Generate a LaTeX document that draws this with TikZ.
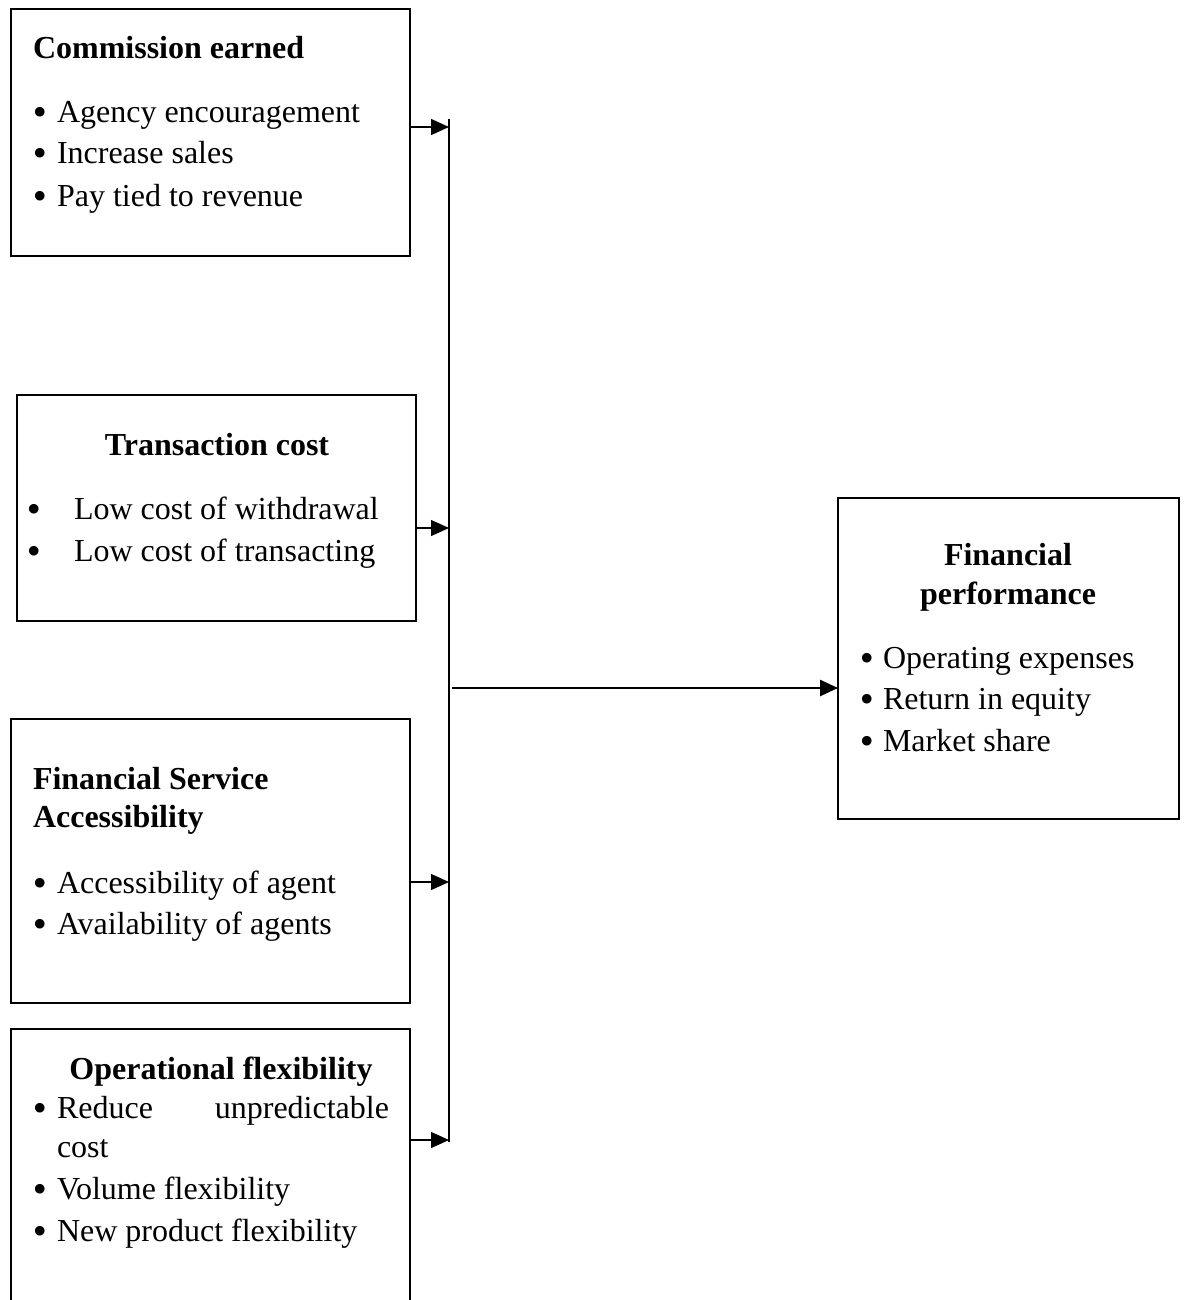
\documentclass[tikz,border=0pt]{standalone}
\usepackage{fontspec}
\setmainfont{Liberation Serif}
\newfontfamily\bulfont{DejaVu Sans}
\usetikzlibrary{arrows.meta}
\begin{document}
\begin{tikzpicture}[x=1pt,y=-1pt,
  box/.style={draw,line width=2pt,inner sep=0pt,outer sep=0pt,anchor=north west},
  txt/.style={inner sep=0pt,outer sep=0pt,anchor=base west,font=\fontsize{32}{42}\selectfont},
  ttl/.style={txt,font=\fontsize{32}{42}\selectfont\bfseries},
  ctl/.style={ttl,anchor=base},
  bul/.style={inner sep=0pt,outer sep=0pt,anchor=base west,font=\bulfont\fontsize{33}{42}\selectfont},
  conn/.style={line width=1.4pt,-{Triangle[length=18pt,width=16pt]}},
  spine/.style={line width=1.6pt},
]
\newcommand{\bulsym}{\raisebox{-2pt}{•}}
\clip (0,0) rectangle (1187,1300);
\fill[white] (0,0) rectangle (1187,1300);

% boxes
\node[box,minimum width=399pt,minimum height=247pt] (b1) at (11,9) {};
\node[box,minimum width=399pt,minimum height=226pt] (b2) at (17,395) {};
\node[box,minimum width=399pt,minimum height=284pt] (b3) at (11,719) {};
\node[box,minimum width=399pt,minimum height=320pt] (b4) at (11,1029) {};
\node[box,minimum width=341pt,minimum height=321pt] (b5) at (838,498) {};

% box 1
\node[ttl] (t1) at (33,59) {Commission earned};
\node[bul] (t1b1) at (30,123) {\bulsym};
\node[txt] (t1x1) at (57,123) {Agency encouragement};
\node[bul] (t1b2) at (30,164) {\bulsym};
\node[txt] (t1x2) at (57,164) {Increase sales};
\node[bul] (t1b3) at (30,206) {\bulsym};
\node[txt] (t1x3) at (57,206) {Pay tied to revenue};

% box 2
\node[ctl] (t2) at (217,455) {Transaction cost};
\node[bul] (t2b1) at (24,519) {\bulsym};
\node[txt] (t2x1) at (74,519) {Low cost of withdrawal};
\node[bul] (t2b2) at (24,561) {\bulsym};
\node[txt] (t2x2) at (74,561) {Low cost of transacting};

% box 3
\node[ttl] (t3a) at (33,789) {Financial Service};
\node[ttl] (t3b) at (33,827) {Accessibility};
\node[bul] (t3b1) at (30,893) {\bulsym};
\node[txt] (t3x1) at (57,893) {Accessibility of agent};
\node[bul] (t3b2) at (30,934) {\bulsym};
\node[txt] (t3x2) at (57,934) {Availability of agents};

% box 4
\node[ctl] (t4) at (221,1079) {Operational flexibility};
\node[bul] (t4b1) at (30,1118) {\bulsym};
\node[txt] (t4x1) at (57,1118) {Reduce};
\node[txt,anchor=base east] (t4x1b) at (389,1118) {unpredictable};
\node[txt] (t4x1c) at (57,1157) {cost};
\node[bul] (t4b2) at (30,1199) {\bulsym};
\node[txt] (t4x2) at (57,1199) {Volume flexibility};
\node[bul] (t4b3) at (30,1241) {\bulsym};
\node[txt] (t4x3) at (57,1241) {New product flexibility};

% box 5
\node[ctl] (t5a) at (1008,565) {Financial};
\node[ctl] (t5b) at (1008,604) {performance};
\node[bul] (t5b1) at (857,668) {\bulsym};
\node[txt] (t5x1) at (883,668) {Operating expenses};
\node[bul] (t5b2) at (857,709) {\bulsym};
\node[txt] (t5x2) at (883,709) {Return in equity};
\node[bul] (t5b3) at (857,751) {\bulsym};
\node[txt] (t5x3) at (883,751) {Market share};

% spine and connectors
\coordinate (top) at (449,119);
\coordinate (bot) at (449,1142);
\coordinate (a1) at (449,127);
\coordinate (a2) at (449,528);
\coordinate (a3) at (449,882);
\coordinate (a4) at (449,1140);
\coordinate (m) at (452,688);
\draw[spine] (top) -- (bot);
\draw[conn] (b1.east |- a1) -- (a1);
\draw[conn] (b2.east |- a2) -- (a2);
\draw[conn] (b3.east |- a3) -- (a3);
\draw[conn] (b4.east |- a4) -- (a4);
\draw[conn,line width=2.6pt] (m) -- (b5.west |- m);
\end{tikzpicture}
\end{document}
